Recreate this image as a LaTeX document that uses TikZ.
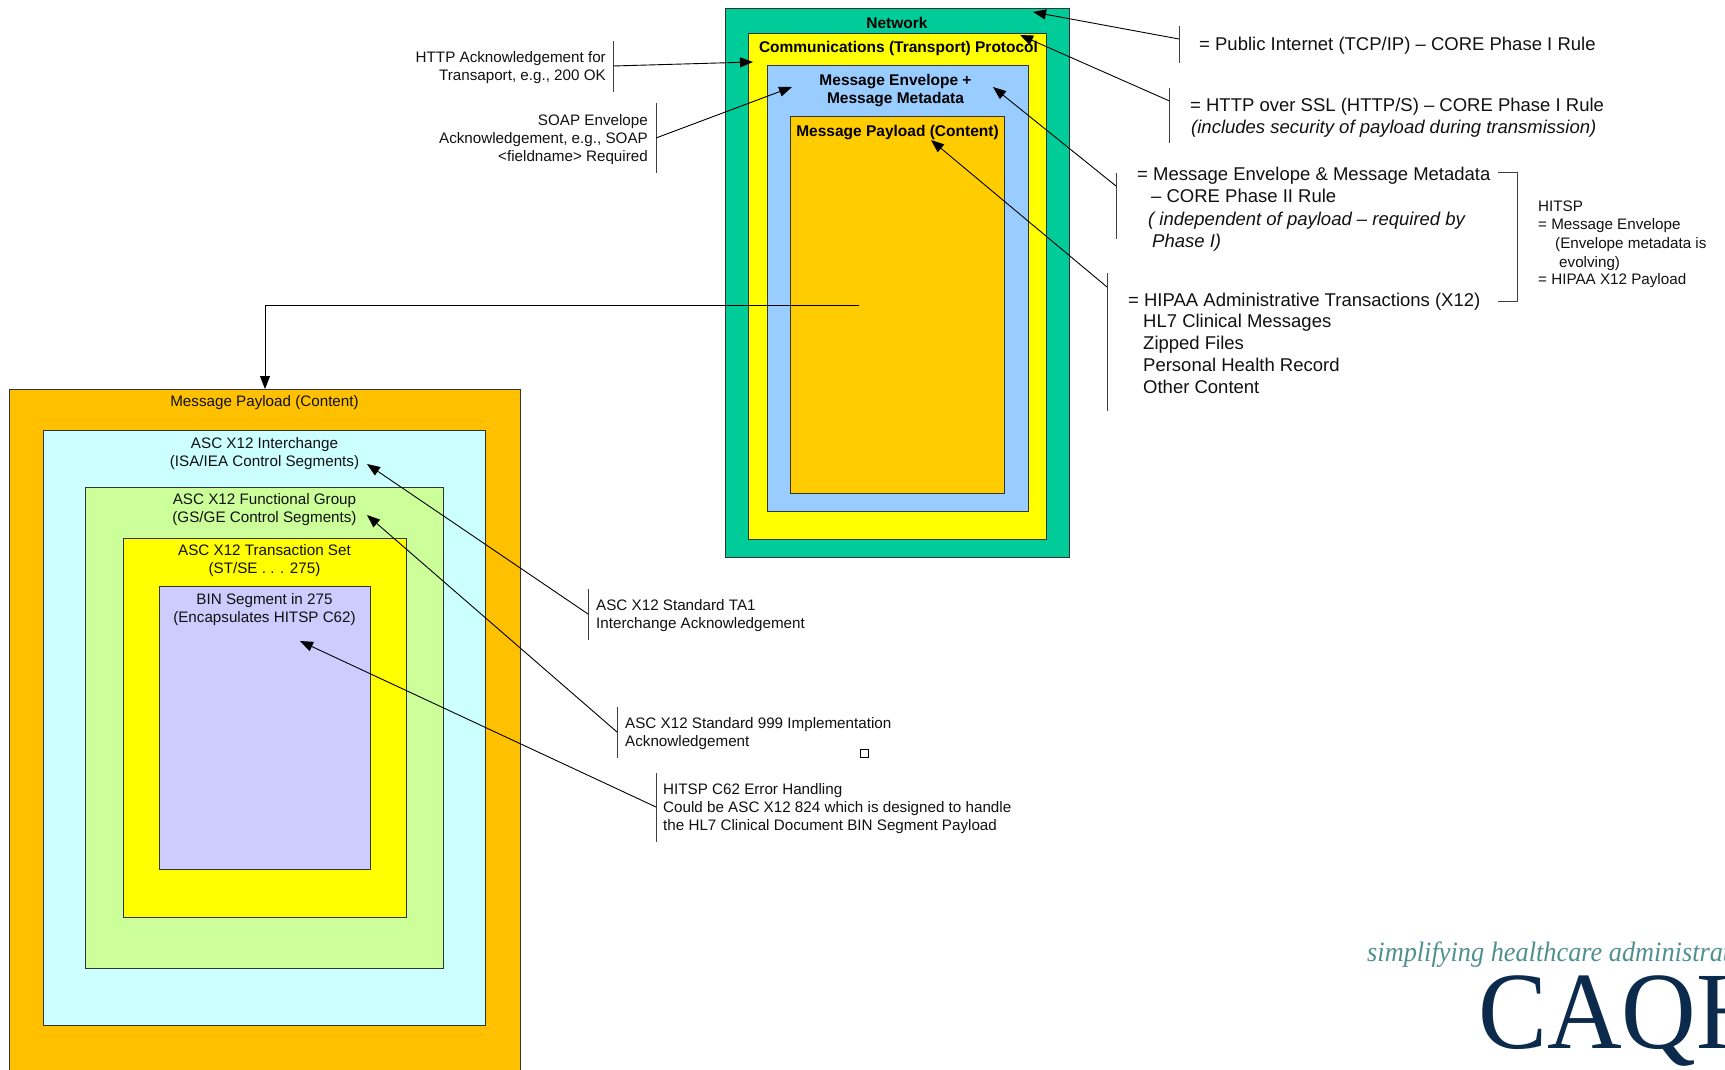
\documentclass[tikz,border=0pt]{standalone}
\usepackage{fontspec}
\setmainfont{Liberation Sans}
\newfontfamily\logoserif{Liberation Serif}
\usetikzlibrary{arrows.meta}
\definecolor{netgreen}{HTML}{00CC99}
\definecolor{protoyellow}{HTML}{FFFF00}
\definecolor{envblue}{HTML}{99CCFF}
\definecolor{payorange}{HTML}{FFCC00}
\definecolor{lowerorange}{HTML}{FFC000}
\definecolor{lowercyan}{HTML}{CCFFFF}
\definecolor{lowergreen}{HTML}{CCFF99}
\definecolor{lowerpurple}{HTML}{CCCCFF}
\definecolor{logoteal}{HTML}{4E9090}
\definecolor{logonavy}{HTML}{0B2A4C}
\definecolor{ink}{HTML}{111111}
\newcommand{\layerbox}[6]{%
  \pgfmathsetmacro{\cxv}{(#2+#4)/2}\pgfmathsetmacro{\cyv}{(#3+#5)/2}%
  \pgfmathsetmacro{\wv}{#4-#2}\pgfmathsetmacro{\hv}{#5-#3}%
  \node[layer,fill=#6,minimum width=\wv pt,minimum height=\hv pt] (#1) at (\cxv,\cyv) {};}
\tikzset{
  x=1pt,y=-1pt,
  layer/.style={draw=black!80,line width=0.9pt,inner sep=0pt,outer sep=0pt,rectangle},
  bar/.style={draw=black!75,line width=1pt},
  lead/.style={draw=black,line width=0.9pt},
  leadarrow/.style={lead,-{Triangle[length=13pt,width=10pt]}},
  boldlabel/.style={anchor=base,font=\fontsize{15.5}{18}\selectfont\bfseries,inner sep=0pt,text=black,yshift=-0.6pt},
  midlabel/.style={anchor=base,font=\fontsize{15.2}{18}\selectfont,inner sep=0pt,text=ink,yshift=-0.5pt},
  smalltext/.style={anchor=base west,font=\fontsize{15.2}{18}\selectfont,inner sep=0pt,text=ink,yshift=-0.5pt},
  righttext/.style={anchor=base east,font=\fontsize{15.2}{18}\selectfont,inner sep=0pt,text=ink,yshift=-0.8pt},
  bigtext/.style={anchor=base west,font=\fontsize{18.5}{22}\selectfont,inner sep=0pt,text=ink,yshift=-1pt},
  bigital/.style={anchor=base west,font=\fontsize{18.5}{22}\selectfont\itshape,inner sep=0pt,text=ink,yshift=-1pt},
}
\begin{document}
\begin{tikzpicture}
\useasboundingbox (0,0) rectangle (1725,1070);
% upper nested boxes
\layerbox{net}{725}{8}{1069.5}{557}{netgreen}
\layerbox{proto}{748.5}{33}{1046.5}{539}{protoyellow}
\layerbox{env}{767}{65}{1028}{511.5}{envblue}
\layerbox{pay}{790.5}{116}{1004.5}{493}{payorange}
\node[boldlabel] (lnet) at (897,28) {Network};
\node[boldlabel] (lproto) at (898.5,52) {Communications (Transport) Protocol};
\node[boldlabel] (lenv1) at (895.5,85) {Message Envelope +};
\node[boldlabel] (lenv2) at (895.5,103) {Message Metadata};
\node[boldlabel] (lpay) at (897.5,136) {Message Payload (Content)};
% lower nested boxes
\begin{scope}
\clip (0,0) rectangle (1725,1070);
\layerbox{outer}{9}{389}{520}{1075}{lowerorange}
\end{scope}
\layerbox{ichg}{43}{430}{485}{1025}{lowercyan}
\layerbox{fgrp}{85}{487}{443}{968}{lowergreen}
\layerbox{tset}{123}{538}{406}{917}{protoyellow}
\layerbox{bin}{159.5}{586}{370}{869}{lowerpurple}
\node[midlabel] (louter) at (264.5,406) {Message Payload (Content)};
\node[midlabel] (li1) at (264.5,448) {ASC X12 Interchange};
\node[midlabel] (li2) at (264.5,466) {(ISA/IEA Control Segments)};
\node[midlabel] (lf1) at (264.5,504) {ASC X12 Functional Group};
\node[midlabel] (lf2) at (264.5,522) {(GS/GE Control Segments)};
\node[midlabel] (lt1) at (264.5,555) {ASC X12 Transaction Set};
\node[midlabel] (lt2) at (264.5,573) {(ST/SE . . . 275)};
\node[midlabel] (lb1) at (264.5,604) {BIN Segment in 275};
\node[midlabel] (lb2) at (264.5,622) {(Encapsulates HITSP C62)};
% bars with joints and arrow tips
\coordinate (b1a) at (1179,26); \coordinate (b1b) at (1179,63); \coordinate (j1) at (1179,39); \coordinate (t1) at (1033,12);
\coordinate (b2a) at (1169.5,88); \coordinate (b2b) at (1169.5,143); \coordinate (j2) at (1169.5,101); \coordinate (t2) at (1020,35);
\coordinate (b3a) at (1116,173); \coordinate (b3b) at (1116,239); \coordinate (j3) at (1116,186); \coordinate (t3) at (993,87);
\coordinate (b4a) at (1107,273); \coordinate (b4b) at (1107,411); \coordinate (j4) at (1107,287); \coordinate (t4) at (931,140);
\coordinate (b5a) at (613,41); \coordinate (b5b) at (613,92); \coordinate (j5) at (613,66); \coordinate (t5) at (753,62);
\coordinate (b6a) at (656,103); \coordinate (b6b) at (656,173); \coordinate (j6) at (656,138); \coordinate (t6) at (792,87);
\coordinate (b7a) at (588,589); \coordinate (b7b) at (588,640); \coordinate (j7) at (588,614); \coordinate (t7) at (367,464);
\coordinate (b8a) at (617,707); \coordinate (b8b) at (617,758); \coordinate (j8) at (617,732); \coordinate (t8) at (367,515);
\coordinate (b9a) at (656,773); \coordinate (b9b) at (656,842); \coordinate (j9) at (656,807); \coordinate (t9) at (300,641);
\foreach \n in {1,...,9} {
  \draw[bar] (b\n a) -- (b\n b);
  \draw[leadarrow] (j\n) -- (t\n);
}
% elbow to enlarged payload
\coordinate (elbowstart) at (859,305);
\draw[leadarrow] (elbowstart) -- (265,305) -- (outer.north -| 265,305);
% bracket
\coordinate (bra) at (1498,173); \coordinate (brb) at (1498,301);
\draw[bar] (bra) -- (1517,173) -- (1517,301) -- (brb);
% right texts
\node[bigtext] (r1) at (1199,50) {= Public Internet (TCP/IP) – CORE Phase I Rule};
\node[bigtext] (r2) at (1190,110.5) {= HTTP over SSL (HTTP/S) – CORE Phase I Rule};
\node[bigital] (r2b) at (1191,132.5) {(includes security of payload during transmission)};
\node[bigtext] (r3) at (1137,180) {= Message Envelope \& Message Metadata};
\node[bigtext] (r3b) at (1151,202) {– CORE Phase II Rule};
\node[bigital] (r3c) at (1148,224) {( independent of payload – required by};
\node[bigital] (r3d) at (1152,246) {Phase I)};
\node[bigtext] (r4) at (1128,305) {= HIPAA Administrative Transactions (X12)};
\node[bigtext] (r4b) at (1143,326) {HL7 Clinical Messages};
\node[bigtext] (r4c) at (1143,348) {Zipped Files};
\node[bigtext] (r4d) at (1143,370) {Personal Health Record};
\node[bigtext] (r4e) at (1143,392) {Other Content};
% HITSP
\node[smalltext] (h1) at (1538,211) {HITSP};
\node[smalltext] (h2) at (1538,229) {= Message Envelope};
\node[smalltext] (h3) at (1555,248) {(Envelope metadata is};
\node[smalltext] (h4) at (1559,267) {evolving)};
\node[smalltext] (h5) at (1538,284) {= HIPAA X12 Payload};
% left texts
\node[righttext] (l1) at (606,62) {HTTP Acknowledgement for};
\node[righttext] (l2) at (606,80) {Transaport, e.g., 200 OK};
\node[righttext] (l3) at (648,125) {SOAP Envelope};
\node[righttext] (l4) at (648,143) {Acknowledgement, e.g., SOAP};
\node[righttext] (l5) at (648,161) {<fieldname> Required};
% lower callouts
\node[smalltext] (a1) at (596,610) {ASC X12 Standard TA1};
\node[smalltext] (a2) at (596,628) {Interchange Acknowledgement};
\node[smalltext] (a3) at (625,728) {ASC X12 Standard 999 Implementation};
\node[smalltext] (a4) at (625,746) {Acknowledgement};
\node[smalltext] (a5) at (663,794) {HITSP C62 Error Handling};
\node[smalltext] (a6) at (663,812) {Could be ASC X12 824 which is designed to handle};
\node[smalltext] (a7) at (663,830) {the HL7 Clinical Document BIN Segment Payload};
% small square
\node[draw=black,line width=0.9pt,fill=white,minimum size=8pt,inner sep=0pt] (sq) at (864,753) {};
% logo
\begin{scope}
\clip (0,0) rectangle (1725,1070);
\node[anchor=base west,inner sep=0pt,text=logoteal,font=\logoserif\itshape\fontsize{28}{30}\selectfont,xscale=0.94,transform shape] (logotag) at (1367,961) {simplifying healthcare administrat};
\node[anchor=base west,inner sep=0pt,text=logonavy,font=\logoserif\fontsize{110}{120}\selectfont,xscale=0.94,transform shape] (logoname) at (1478,1048) {CAQH};
\end{scope}
\end{tikzpicture}
\end{document}
